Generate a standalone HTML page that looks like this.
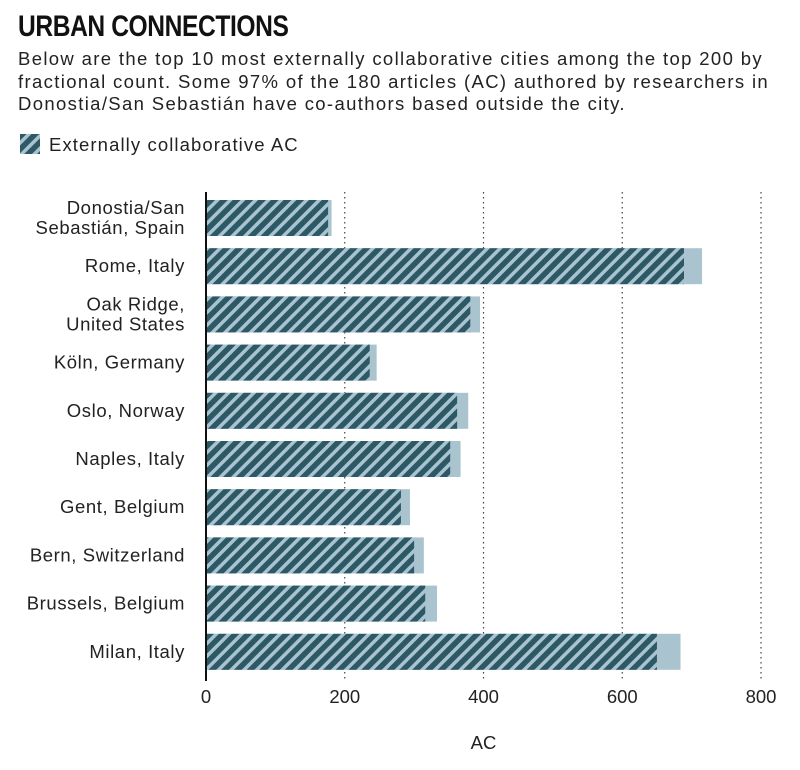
<!DOCTYPE html>
<html><head><meta charset="utf-8"><style>
body{margin:0;background:#fff;width:800px;height:770px;overflow:hidden;font-family:"Liberation Sans",sans-serif;}
#title{position:absolute;left:18px;top:10px;font-size:30px;font-weight:bold;letter-spacing:-0.5px;color:#111;transform:scaleX(0.82);transform-origin:left;}
#sub{position:absolute;left:18px;top:48px;font-size:18.5px;line-height:22.5px;color:#222;width:790px;white-space:nowrap;letter-spacing:1.35px;}
</style></head><body>
<div id="title">URBAN CONNECTIONS</div>
<div id="sub">Below are the top 10 most externally collaborative cities among the top 200 by<br>fractional count. Some 97% of the 180 articles (AC) authored by researchers in<br>Donostia/San Sebastián have co-authors based outside the city.</div>
<svg width="800" height="770" style="position:absolute;left:0;top:0" id="chart">
<defs><pattern id="hatch" patternUnits="userSpaceOnUse" width="9" height="9" patternTransform="rotate(45)">
<rect width="9" height="9" fill="#a9c4cf"/><rect width="5.5" height="9" fill="#2d5866"/></pattern></defs>
<rect x="20" y="134" width="20" height="20" fill="url(#hatch)"/>
<text x="49" y="151" font-size="18.5" letter-spacing="1.1" fill="#222">Externally collaborative AC</text>
<g id="grid"></g><g id="bars"></g><g id="labels"></g>
</svg>
<script>
const cities=[["Donostia/San","Sebastián, Spain"],["Rome, Italy"],["Oak Ridge,","United States"],["Köln, Germany"],["Oslo, Norway"],["Naples, Italy"],["Gent, Belgium"],["Bern, Switzerland"],["Brussels, Belgium"],["Milan, Italy"]];
const externalAC=[176,689,381,236,362,352,281,300,316,650];
const totalAC=[181,715,395,246,378,367,294,314,333,684];
const ticks=[0,200,400,600,800];
const NS="http://www.w3.org/2000/svg";
const x=v=>206+v*555/800;
const y=i=>200+i*48.2;
function mk(t,a,p){const e=document.createElementNS(NS,t);for(const k in a)e.setAttribute(k,a[k]);p.appendChild(e);return e;}
const g=document.getElementById('grid');
ticks.forEach(t=>{
 if(t>0){const l=mk('line',{x1:x(t),x2:x(t),y1:192,y2:680,stroke:'#444','stroke-width':1.2,'stroke-dasharray':'1.5 3.5'},g);
 
 }
 const tx=mk('text',{x:x(t),y:703,'font-size':18.5,'text-anchor':'middle',fill:'#222'},g);tx.textContent=t;
 
 
});
const at=mk('text',{x:x(400),y:749,'font-size':18.5,'text-anchor':'middle',fill:'#222'},g);at.textContent='AC';


const b=document.getElementById('bars'),lb=document.getElementById('labels');
cities.forEach((c,i)=>{
 const r1=mk('rect',{x:x(0),y:y(i),width:x(totalAC[i])-x(0),height:36,fill:'#a9c4cf'},b);
 
 
 const r2=mk('rect',{x:x(0),y:y(i),width:x(externalAC[i])-x(0),height:36,fill:'url(#hatch)'},b);
 
 
 const cy=y(i)+18;
 c.forEach((ln,j)=>{const t=mk('text',{x:185,y:cy+6+(c.length>1?(j?10:-10):0),'font-size':18.5,'letter-spacing':0.6,'text-anchor':'end',fill:'#222'},lb);t.textContent=ln;
 
 });
});
const ax=mk('line',{x1:206,x2:206,y1:192,y2:681,stroke:'#111','stroke-width':2},b);


</script>
</body></html>
